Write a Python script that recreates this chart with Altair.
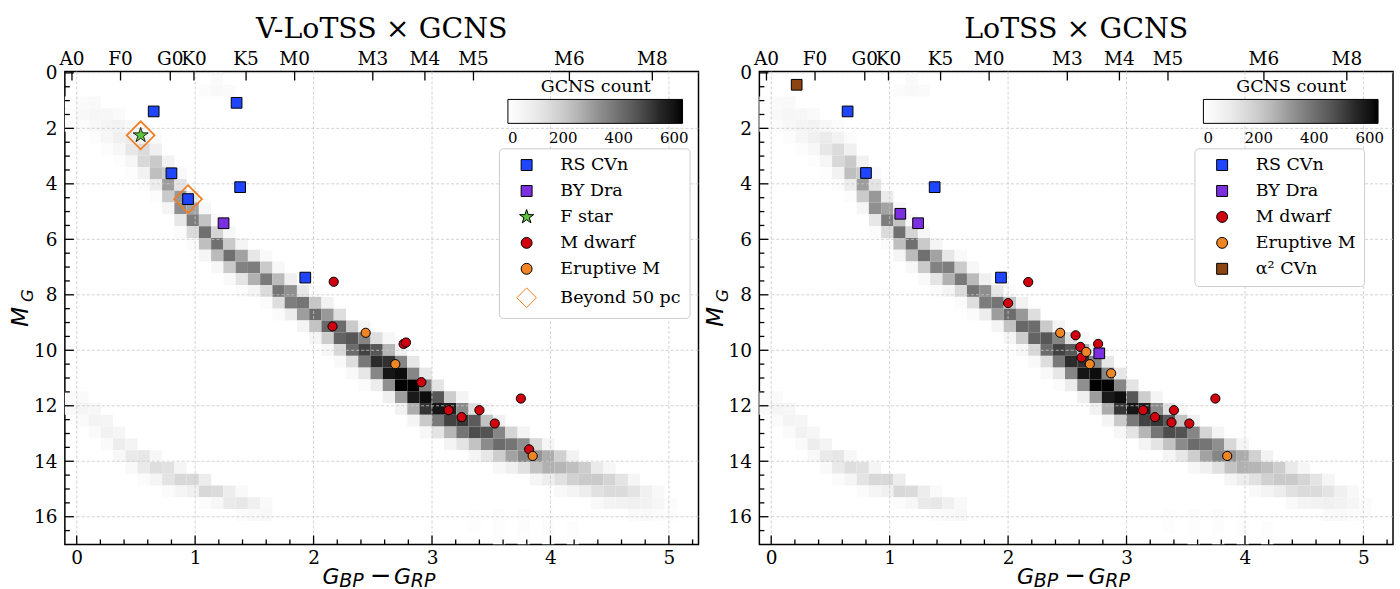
import altair as alt
import pandas as pd

# ---------------- data ----------------
SPEC_TYPES = ["A0", "F0", "G0", "K0", "K5", "M0", "M3", "M4", "M5", "M6", "M8"]
SPEC_BPRP = [-0.04, 0.37, 0.79, 0.99, 1.43, 1.84, 2.50, 2.94, 3.35, 4.16, 4.86]

X_MAJOR = [0, 1, 2, 3, 4, 5]
X_MINOR = [0.2, 0.4, 0.6, 0.8, 1.2, 1.4, 1.6, 1.8, 2.2, 2.4, 2.6, 2.8,
           3.2, 3.4, 3.6, 3.8, 4.2, 4.4, 4.6, 4.8, 5.2]
Y_MAJOR = [0, 2, 4, 6, 8, 10, 12, 14, 16]
Y_MINOR = [0.5, 1, 1.5, 2.5, 3, 3.5, 4.5, 5, 5.5, 6.5, 7, 7.5, 8.5, 9, 9.5,
           10.5, 11, 11.5, 12.5, 13, 13.5, 14.5, 15, 15.5, 16.5]

# GCNS 2-D histogram: bin definition + per colour column (column index, first MG bin, counts)
HIST_X0, HIST_DX, HIST_DY = -0.107, 0.1035, 0.425
MS_COLS = [
    (0, 2, [10, 15, 10]),
    (1, 2, [25, 35, 20]),
    (2, 2, [30, 45, 35, 15]),
    (3, 3, [40, 60, 45, 15]),
    (4, 3, [25, 65, 80, 40, 10]),
    (5, 4, [35, 95, 110, 45, 10]),
    (6, 4, [20, 70, 150, 160, 70, 15]),
    (7, 5, [20, 80, 200, 230, 90, 15]),
    (8, 7, [70, 200, 300, 200, 50]),
    (9, 8, [30, 120, 310, 330, 110, 20]),
    (10, 10, [100, 290, 370, 150, 20]),
    (11, 0, [0, 20]),
    (11, 11, [40, 220, 400, 230, 50]),
    (12, 0, [25, 30]),
    (12, 12, [30, 170, 400, 240, 40]),
    (13, 1, [25]),
    (13, 13, [40, 200, 400, 200, 30]),
    (14, 14, [50, 290, 360, 120, 20]),
    (15, 15, [110, 370, 260, 50]),
    (16, 15, [30, 200, 380, 150, 20]),
    (17, 16, [40, 240, 390, 140, 20]),
    (18, 17, [80, 330, 370, 90]),
    (19, 18, [110, 390, 300, 60]),
    (20, 18, [20, 210, 410, 220, 50]),
    (21, 19, [70, 310, 420, 190, 40]),
    (22, 20, [140, 410, 430, 160, 30]),
    (23, 21, [200, 460, 410, 140, 30]),
    (24, 21, [60, 350, 500, 380, 110, 20]),
    (25, 22, [140, 460, 540, 350, 90]),
    (26, 22, [40, 250, 530, 590, 330, 80]),
    (27, 23, [80, 350, 610, 630, 300, 70]),
    (28, 24, [110, 350, 625, 580, 270, 60]),
    (29, 25, [110, 350, 610, 520, 200, 40]),
    (30, 26, [120, 460, 590, 380, 120]),
    (31, 27, [190, 560, 500, 250, 60]),
    (32, 27, [60, 340, 520, 390, 120]),
    (33, 28, [130, 450, 480, 220, 50]),
    (34, 28, [30, 220, 470, 340, 110]),
    (35, 29, [80, 350, 410, 190, 40]),
    (36, 30, [170, 390, 290, 80]),
    (37, 30, [60, 330, 350, 130]),
    (38, 31, [160, 320, 220, 50]),
    (39, 31, [50, 270, 260, 90]),
    (40, 32, [180, 250, 130, 30]),
    (41, 32, [70, 230, 180, 60]),
    (42, 33, [190, 200, 90]),
    (43, 33, [100, 200, 130, 30]),
    (44, 33, [40, 170, 150, 60]),
    (45, 34, [120, 150, 70]),
    (46, 34, [50, 120, 80, 25]),
    (47, 35, [80, 70, 30]),
    (48, 35, [35, 45, 20]),
    (49, 36, [20, 15]),
    (33, 37, [12, 10]),
    (35, 37, [15, 12, 10]),
    (37, 37, [15, 15, 12]),
    (39, 37, [12, 15, 10]),
    (41, 38, [12, 10]),
]
WD_COLS = [
    (0, 27, [20, 30]),
    (1, 27, [25, 50, 25]),
    (2, 28, [40, 60, 25]),
    (3, 29, [50, 70, 25]),
    (4, 30, [45, 90, 35]),
    (5, 31, [60, 100, 30]),
    (6, 32, [110, 100, 20]),
    (7, 32, [40, 140, 50]),
    (8, 33, [130, 120, 20]),
    (9, 33, [50, 160, 50]),
    (10, 34, [160, 80]),
    (11, 34, [90, 160, 20]),
    (12, 35, [150, 40]),
    (13, 35, [90, 100]),
    (14, 35, [30, 110, 20]),
    (15, 36, [80, 30]),
    (16, 36, [30, 40]),
]

# V-LoTSS x GCNS
L_RSCVN_X = [0.65, 1.35, 0.80, 1.38, 0.94, 1.93]
L_RSCVN_Y = [1.39, 1.08, 3.62, 4.12, 4.55, 7.38]
L_BYDRA_X = [1.24]
L_BYDRA_Y = [5.42]
L_FSTAR_X = [0.54]
L_FSTAR_Y = [2.25]
L_MDWARF_X = [2.17, 2.16, 2.76, 2.78, 2.91, 3.14, 3.25, 3.40, 3.53, 3.75, 3.82]
L_MDWARF_Y = [7.53, 9.14, 9.77, 9.72, 11.15, 12.16, 12.41, 12.16, 12.64, 11.74, 13.57]
L_ERUPT_X = [2.44, 2.69, 3.85]
L_ERUPT_Y = [9.37, 10.50, 13.81]
L_BEYOND_X = [0.54, 0.94]
L_BEYOND_Y = [2.25, 4.55]

# LoTSS x GCNS
R_RSCVN_X = [0.645, 0.80, 1.38, 1.94]
R_RSCVN_Y = [1.39, 3.61, 4.12, 7.38]
R_BYDRA_X = [1.09, 1.24, 2.77]
R_BYDRA_Y = [5.08, 5.42, 10.11]
R_MDWARF_X = [2.17, 2.00, 2.57, 2.61, 2.62, 2.76, 3.14, 3.24, 3.38, 3.40, 3.53, 3.75]
R_MDWARF_Y = [7.54, 8.30, 9.46, 9.88, 10.26, 9.77, 12.16, 12.41, 12.60, 12.16, 12.64, 11.74]
R_ERUPT_X = [2.44, 2.66, 2.69, 2.87, 3.85]
R_ERUPT_Y = [9.37, 10.06, 10.50, 10.83, 13.81]
R_ALPHA_X = [0.215]
R_ALPHA_Y = [0.43]

# ---------------- styles ----------------
SERIF = "DejaVu Serif"
SANS = "DejaVu Sans"
W, H = 635, 474
XDOM = [-0.1, 5.25]
YDOM = [-0.05, 17]
VMAX = 630
GREYS = ["#ffffff", "#f0f0f0", "#d9d9d9", "#bdbdbd", "#969696",
         "#737373", "#525252", "#252525", "#000000"]
GREY_STOPS = [VMAX * i / 8 for i in range(9)]
TICK_FONT = 18.5
LEG_FONT = 17.5

STAR = ("M0,-1.35L0.303,-0.417L1.284,-0.417L0.49,0.159L0.794,1.092L0,0.516"
        "L-0.794,1.092L-0.49,0.159L-1.284,-0.417L-0.303,-0.417Z")
DIAMOND = "M-1.8,0L0,-1.8L1.8,0L0,1.8Z"

STYLE = {
    "RS CVn": dict(fill="#1f45ff", stroke="black", shape="square", size=115, sw=1),
    "BY Dra": dict(fill="#7b2fe0", stroke="black", shape="square", size=115, sw=1),
    "F star": dict(fill="#5ec43e", stroke="black", shape=STAR, size=137, sw=0.8),
    "M dwarf": dict(fill="#d0000f", stroke="black", shape="circle", size=85, sw=1),
    "Eruptive M": dict(fill="#ef8524", stroke="black", shape="circle", size=85, sw=1),
    "Beyond 50 pc": dict(fill="transparent", stroke="#f07d1e", shape=DIAMOND, size=242, sw=1.7),
    "α² CVn": dict(fill="#8b4513", stroke="black", shape="square", size=115, sw=1),
}


def hist_frame():
    rows = []
    for k, j0, counts in MS_COLS + WD_COLS:
        for i, c in enumerate(counts):
            if c <= 0:
                continue
            rows.append(dict(x1=HIST_X0 + k * HIST_DX, x2=HIST_X0 + (k + 1) * HIST_DX,
                             y1=(j0 + i) * HIST_DY, y2=(j0 + i + 1) * HIST_DY, count=c))
    return pd.DataFrame(rows)


HIST = hist_frame()


def points_frame(groups):
    rows = []
    for cat, xs, ys in groups:
        for x, y in zip(xs, ys):
            rows.append(dict(cat=cat, bprp=x, mg=y, sz=STYLE[cat]["size"], sw=STYLE[cat]["sw"]))
    return pd.DataFrame(rows)


def panel(title, groups, legend_order, leg_x, grad_x):
    xs = alt.Scale(domain=XDOM, nice=False, zero=False)
    ys = alt.Scale(domain=YDOM, reverse=True, nice=False, zero=False)

    grad_legend = alt.Legend(
        title="GCNS count", orient="none", legendX=grad_x, legendY=6.5,
        direction="horizontal", gradientLength=175, gradientThickness=24,
        gradientStrokeColor="black", gradientStrokeWidth=1,
        titleFont=SERIF, titleFontSize=LEG_FONT, titleFontWeight="normal", titleColor="black",
        titleAnchor="middle", titlePadding=4,
        labelFont=SERIF, labelFontSize=15, labelColor="black", labelOffset=8,
        labelAlign="center", values=[0, 200, 400, 600], padding=0)

    hist = alt.Chart(HIST).mark_rect(clip=True).encode(
        x=alt.X("x1:Q", scale=xs, axis=alt.Axis(
            values=X_MAJOR, title=None, ticks=False, tickSize=0, domain=False, grid=False,
            labelFont=SERIF, labelFontSize=TICK_FONT, labelColor="black", labelPadding=4,
            format="d", orient="bottom")),
        x2="x2:Q",
        y=alt.Y("y1:Q", scale=ys, axis=alt.Axis(
            values=Y_MAJOR, title=None, ticks=False, tickSize=0, domain=False, grid=False,
            labelFont=SERIF, labelFontSize=TICK_FONT, labelColor="black", labelPadding=8,
            format="d", orient="left")),
        y2="y2:Q",
        color=alt.Color("count:Q", scale=alt.Scale(domain=GREY_STOPS, range=GREYS),
                        legend=grad_legend),
    )

    grid_style = dict(color="#c8c8c8", strokeDash=[3, 2], strokeWidth=0.8)
    vgrid = alt.Chart(pd.DataFrame({"v": X_MAJOR})).mark_rule(**grid_style).encode(
        x=alt.X("v:Q", scale=xs, axis=None))
    hgrid = alt.Chart(pd.DataFrame({"v": Y_MAJOR})).mark_rule(**grid_style).encode(
        y=alt.Y("v:Q", scale=ys, axis=None))

    tick_style = dict(color="black", strokeWidth=1.3)
    bx_major = alt.Chart(pd.DataFrame({"v": X_MAJOR})).mark_rule(**tick_style).encode(
        x=alt.X("v:Q", scale=xs, axis=None), y=alt.value(H), y2=alt.value(H - 9))
    bx_minor = alt.Chart(pd.DataFrame({"v": X_MINOR})).mark_rule(**tick_style).encode(
        x=alt.X("v:Q", scale=xs, axis=None), y=alt.value(H), y2=alt.value(H - 5))
    ly_major = alt.Chart(pd.DataFrame({"v": Y_MAJOR})).mark_rule(**tick_style).encode(
        y=alt.Y("v:Q", scale=ys, axis=None), x=alt.value(0), x2=alt.value(9))
    ly_minor = alt.Chart(pd.DataFrame({"v": Y_MINOR})).mark_rule(**tick_style).encode(
        y=alt.Y("v:Q", scale=ys, axis=None), x=alt.value(0), x2=alt.value(5))

    spec = pd.DataFrame({"sp": SPEC_TYPES, "bprp": SPEC_BPRP})
    top_ticks = alt.Chart(spec).mark_rule(**tick_style).encode(
        x=alt.X("bprp:Q", scale=xs, axis=None), y=alt.value(0), y2=alt.value(9))
    top_labels = alt.Chart(spec).mark_text(
        font=SERIF, fontSize=TICK_FONT, color="black", align="center", baseline="alphabetic").encode(
        x=alt.X("bprp:Q", scale=xs, axis=None), y=alt.value(-6), text="sp:N")

    sym_legend = alt.Legend(
        title=None, orient="none", legendX=leg_x, legendY=77,
        labelFont=SERIF, labelFontSize=LEG_FONT, labelColor="black",
        symbolSize=120, symbolStrokeWidth=1, rowPadding=7, padding=8,
        fillColor="white", strokeColor="#cccccc", cornerRadius=4,
        symbolOffset=11, labelOffset=25)

    pts = points_frame(groups)
    points = alt.Chart(pts).mark_point(filled=True, opacity=1).encode(
        x=alt.X("bprp:Q", scale=xs, axis=None),
        y=alt.Y("mg:Q", scale=ys, axis=None),
        fill=alt.Fill("cat:N", scale=alt.Scale(
            domain=legend_order, range=[STYLE[c]["fill"] for c in legend_order]), legend=sym_legend),
        stroke=alt.Stroke("cat:N", scale=alt.Scale(
            domain=legend_order, range=[STYLE[c]["stroke"] for c in legend_order]), legend=sym_legend),
        shape=alt.Shape("cat:N", scale=alt.Scale(
            domain=legend_order, range=[STYLE[c]["shape"] for c in legend_order]), legend=sym_legend),
        size=alt.Size("sz:Q", scale=None, legend=None),
        strokeWidth=alt.StrokeWidth("sw:Q", scale=None, legend=None),
    )

    def txt(text, x, y, size, font=SANS, style="italic", angle=0):
        return alt.Chart(pd.DataFrame({"t": [text]})).mark_text(
            font=font, fontSize=size, fontStyle=style, color="black", align="left",
            baseline="alphabetic", angle=angle).encode(
            x=alt.value(x), y=alt.value(y), text="t:N")

    ttl = alt.Chart(pd.DataFrame({"t": [title]})).mark_text(
        font=SERIF, fontSize=28.5, color="black", align="center", baseline="alphabetic").encode(
        x=alt.value(W / 2), y=alt.value(-34), text="t:N")

    labels = [
        txt("G", 258.3, H + 40, 22),
        txt("BP", 274.9, H + 43, 19),
        txt("\u2212", 305.5, H + 40, 26, style="normal"),
        txt("G", 329.9, H + 40, 22),
        txt("RP", 346.6, H + 43, 19),
        txt("M", -36.7, 255.7, 23, angle=270),
        txt("G", -31.7, 231, 16.5, angle=270),
    ]

    return alt.layer(hist, vgrid, hgrid, bx_major, bx_minor, ly_major, ly_minor,
                     top_ticks, top_labels, points, ttl, *labels).resolve_axis(
        x="independent", y="independent").properties(width=W, height=H)


left = panel(
    "V-LoTSS \u00d7 GCNS",
    [("RS CVn", L_RSCVN_X, L_RSCVN_Y), ("BY Dra", L_BYDRA_X, L_BYDRA_Y),
     ("F star", L_FSTAR_X, L_FSTAR_Y), ("M dwarf", L_MDWARF_X, L_MDWARF_Y),
     ("Eruptive M", L_ERUPT_X, L_ERUPT_Y), ("Beyond 50 pc", L_BEYOND_X, L_BEYOND_Y)],
    ["RS CVn", "BY Dra", "F star", "M dwarf", "Eruptive M", "Beyond 50 pc"],
    435, 444,
)
right = panel(
    "LoTSS \u00d7 GCNS",
    [("RS CVn", R_RSCVN_X, R_RSCVN_Y), ("M dwarf", R_MDWARF_X, R_MDWARF_Y),
     ("Eruptive M", R_ERUPT_X, R_ERUPT_Y), ("BY Dra", R_BYDRA_X, R_BYDRA_Y),
     ("α² CVn", R_ALPHA_X, R_ALPHA_Y)],
    ["RS CVn", "BY Dra", "M dwarf", "Eruptive M", "α² CVn"],
    436, 445,
)

chart = alt.hconcat(left, right, spacing=3).resolve_scale(
    color="independent", fill="independent", stroke="independent", shape="independent",
).configure_view(stroke="black", strokeWidth=1.5).properties(
    padding={"left": 9, "top": 13, "right": 5, "bottom": 0},
    background="white",
)

chart.save("out.html", embed_options={"renderer": "svg", "actions": False})
